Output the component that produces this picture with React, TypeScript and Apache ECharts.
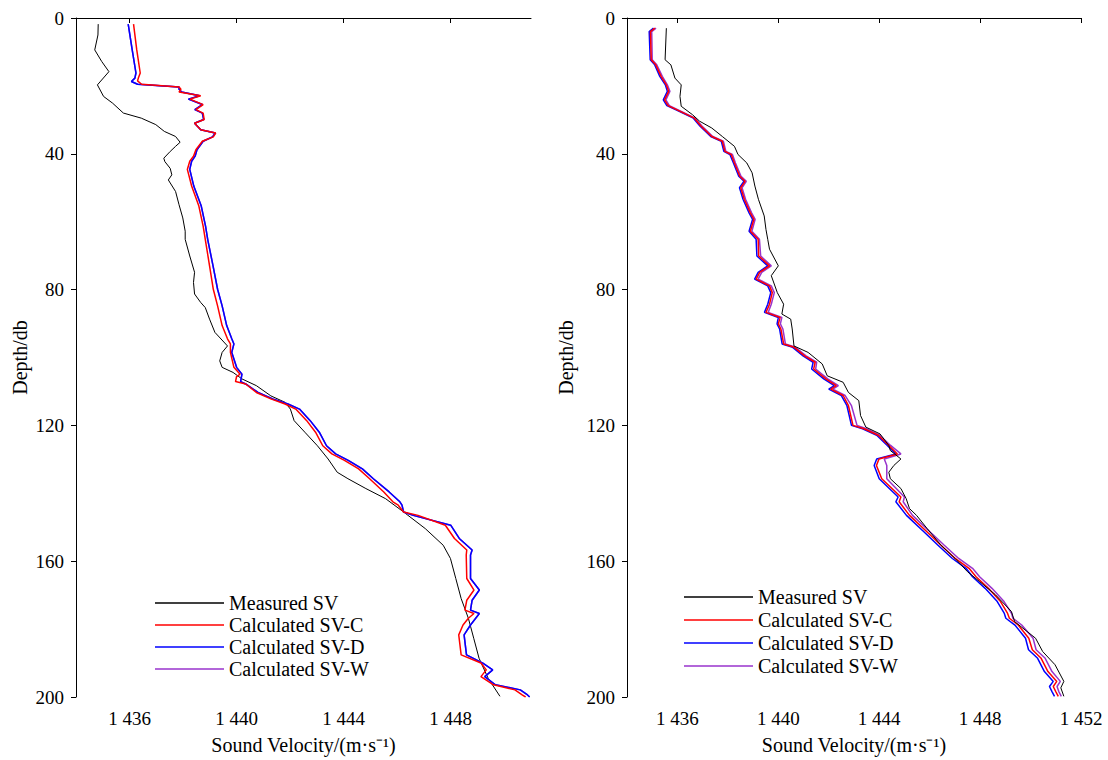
import React, { useEffect, useRef } from "react";
import * as echarts from "echarts";

// [depth (db), sound velocity (m/s)]
const leftMeasured: [number, number][] = [
  [1.8, 1434.83], [5, 1434.82], [9.4, 1434.7], [12.8, 1434.96], [15.8, 1435.23], [19.7, 1434.8],
  [23.1, 1435.03], [25.1, 1435.37], [28.0, 1435.77], [29.5, 1436.44], [31.4, 1436.98], [33.4, 1437.3],
  [34.9, 1437.72], [36.6, 1437.89], [37.8, 1437.72], [39.3, 1437.52], [41.3, 1437.28], [42.3, 1437.32],
  [44.3, 1437.52], [46.2, 1437.58], [47.7, 1437.45], [51.1, 1437.72], [55, 1437.85], [58.9, 1437.99],
  [62.8, 1438.08], [65.2, 1438.08], [70.1, 1438.25], [74.9, 1438.43], [77.9, 1438.39], [81.3, 1438.43],
  [83.8, 1438.66], [85.3, 1438.83], [88.7, 1438.99], [92.6, 1439.19], [96.6, 1439.66], [98.5, 1439.46],
  [101, 1439.37], [102.9, 1439.46], [104.4, 1439.87], [106.3, 1440.2], [108.3, 1440.74], [111.3, 1441.28],
  [113.2, 1441.81], [115.2, 1442.01], [118.6, 1442.15], [122, 1442.55], [126, 1443.02], [129.9, 1443.42],
  [133.8, 1443.76], [135.7, 1444.16], [138.6, 1444.83], [141.6, 1445.57], [145.5, 1446.24], [150.4, 1447.05],
  [155.3, 1447.72], [159.2, 1447.99], [165.1, 1448.19], [171, 1448.39], [176.8, 1448.66], [182.7, 1448.86],
  [188.6, 1449.06], [194.5, 1449.4], [199.8, 1449.84],
];

const leftC: [number, number][] = [
  [1.8, 1436.15], [9.4, 1436.27], [16.2, 1436.4], [17.7, 1436.33], [18.5, 1436.3], [19.5, 1436.45],
  [20.3, 1437.85], [21.0, 1437.92], [21.8, 1437.85], [22.9, 1438.66], [23.9, 1438.26], [25.5, 1438.75],
  [27, 1438.48], [28, 1438.75], [29.9, 1438.79], [31, 1438.43], [32.9, 1438.66], [33.9, 1439.22],
  [35, 1439.13], [36.3, 1438.72], [38.8, 1438.48], [40.7, 1438.39], [42.2, 1438.25], [44.6, 1438.16],
  [49.5, 1438.32], [55.4, 1438.59], [61.3, 1438.75], [65.2, 1438.83], [73, 1438.99], [79.9, 1439.13],
  [84.8, 1439.29], [90.6, 1439.46], [94.5, 1439.66], [96, 1439.77], [98.5, 1439.77], [102.9, 1439.9],
  [104.9, 1440.13], [105.6, 1440.0], [107.1, 1439.96], [107.8, 1440.34], [110.3, 1440.74], [112.2, 1441.28],
  [113.7, 1441.81], [115.2, 1442.21], [118.6, 1442.62], [122, 1442.95], [126, 1443.22], [128.4, 1443.56],
  [130.3, 1444.03], [132.8, 1444.56], [135.7, 1444.97], [139.6, 1445.5], [142.5, 1445.84], [143.5, 1446.04],
  [145.5, 1446.24], [146.5, 1446.78], [149.4, 1447.8], [153.3, 1448.14], [156.7, 1448.6], [158.2, 1448.58],
  [165.1, 1448.6], [168.5, 1448.87], [171.5, 1448.6], [174.4, 1448.53], [175.4, 1448.87], [176.8, 1448.66],
  [178.8, 1448.46], [181.7, 1448.3], [187.6, 1448.39], [190, 1449.13], [192, 1449.33], [194, 1449.13],
  [196.4, 1449.6], [197.9, 1450.4], [199.4, 1450.67], [200, 1450.8],
];

const leftD: [number, number][] = [
  [1.8, 1435.95], [9.4, 1436.1], [16.2, 1436.24], [17.7, 1436.2], [18.7, 1436.07], [19.5, 1436.3],
  [20.3, 1437.85], [21.0, 1437.85], [21.8, 1437.95], [22.9, 1438.62], [23.9, 1438.2], [25.5, 1438.72],
  [27, 1438.44], [28, 1438.72], [29.9, 1438.77], [31, 1438.43], [32.9, 1438.66], [33.9, 1439.2],
  [35, 1439.1], [36.3, 1438.75], [38.8, 1438.52], [40.7, 1438.45], [42.2, 1438.32], [44.6, 1438.25],
  [49.5, 1438.4], [55.4, 1438.68], [61.3, 1438.84], [65.2, 1438.92], [73, 1439.12], [79.9, 1439.29],
  [84.8, 1439.46], [90.6, 1439.63], [94.5, 1439.82], [96, 1439.9], [98.5, 1439.82], [102.9, 1440.0],
  [104.9, 1440.2], [107.1, 1440.15], [107.8, 1440.34], [110.3, 1440.8], [112.2, 1441.35], [113.7, 1441.92],
  [115.2, 1442.35], [118.6, 1442.75], [122, 1443.09], [126, 1443.36], [128.4, 1443.7], [130.3, 1444.17],
  [132.8, 1444.7], [135.7, 1445.11], [139.6, 1445.7], [142.5, 1446.1], [143.5, 1446.18], [145.5, 1446.24],
  [146.5, 1446.6], [149.4, 1448.0], [153.3, 1448.32], [156.7, 1448.8], [158.2, 1448.74], [165.1, 1448.74],
  [168.5, 1449.07], [171.5, 1448.8], [174.4, 1448.74], [175.4, 1449.07], [178.8, 1448.74], [181.7, 1448.5],
  [187.6, 1448.59], [190, 1449.2], [192, 1449.57], [194, 1449.27], [196.4, 1449.67], [197.9, 1450.6],
  [199.4, 1450.87], [200, 1450.95],
];

// SV-W coincides with SV-D in the left panel (hidden underneath it)
const leftW: [number, number][] = leftD;

const rightMeasured: [number, number][] = [
  [3.0, 1435.56], [12.3, 1435.51], [13.8, 1435.74], [17.7, 1435.9], [19.7, 1436.15], [23.1, 1436.1],
  [26, 1436.15], [28.5, 1436.6], [30.4, 1436.88], [32.4, 1437.36], [34.9, 1437.78], [37.8, 1438.26],
  [40.2, 1438.4], [42.7, 1438.75], [45.6, 1438.96], [49.5, 1439.07], [53.4, 1439.21], [58.3, 1439.44],
  [62.3, 1439.51], [65.2, 1439.58], [68.1, 1439.65], [73, 1440.0], [75.9, 1439.72], [80.9, 1439.96],
  [84.3, 1440.21], [87.2, 1440.14], [88.7, 1440.49], [91.6, 1440.55], [96.6, 1440.62], [98.5, 1441.18],
  [101.9, 1441.74], [105.4, 1441.94], [107.3, 1442.57], [110.3, 1442.78], [112.7, 1443.19], [117.1, 1443.26],
  [120.5, 1443.47], [122.5, 1444.03], [125.9, 1444.38], [127.4, 1444.44], [129.9, 1444.86], [131.8, 1444.58],
  [133.8, 1444.38], [135.7, 1444.44], [138.6, 1444.86], [141.6, 1445.07], [144.5, 1445.2], [146.5, 1445.48],
  [150.4, 1445.9], [155.3, 1446.45], [159.2, 1447.01], [163.1, 1447.5], [166, 1447.98], [169.9, 1448.61],
  [174.8, 1449.24], [177.8, 1449.37], [182.7, 1450.2], [186.6, 1450.48], [190.5, 1450.97], [195.4, 1451.32],
  [197.3, 1451.2], [199.8, 1451.32],
];

const rightC: [number, number][] = [
  [3.0, 1435.1], [4.0, 1434.93], [12.3, 1434.96], [13.8, 1435.14], [17.2, 1435.35], [19.7, 1435.56],
  [21.6, 1435.65], [24.1, 1435.49], [25.8, 1435.63], [27.5, 1436.11], [29.5, 1436.67], [31.9, 1436.94],
  [34.9, 1437.36], [36.3, 1437.78], [39.3, 1437.88], [40.2, 1438.13], [42.7, 1438.26], [46.6, 1438.47],
  [48.1, 1438.68], [50, 1438.51], [53.4, 1438.65], [57.4, 1438.89], [59.3, 1439.03], [62.8, 1438.89],
  [65.2, 1439.2], [70.1, 1439.22], [73, 1439.65], [74.9, 1439.26], [76.9, 1439.12], [78.9, 1439.65],
  [80.9, 1439.76], [84.3, 1439.65], [86.7, 1439.51], [88.2, 1440.07], [90.1, 1440.0], [91.6, 1440.1],
  [96, 1440.21], [97, 1440.63], [99.5, 1441.04], [101.4, 1441.46], [103.4, 1441.4], [106.3, 1441.88],
  [108.3, 1442.3], [109.3, 1442.08], [111.2, 1442.57], [114.2, 1442.78], [120, 1442.96], [121, 1443.4],
  [122.9, 1443.96], [125.9, 1444.38], [128.4, 1444.72], [129.9, 1443.99], [131.8, 1443.89], [135.7, 1444.1],
  [141.1, 1444.86], [142.5, 1444.79], [146.5, 1445.2], [151.4, 1445.9], [155.3, 1446.45], [159.2, 1447.01],
  [162.1, 1447.56], [164.6, 1447.84], [168, 1448.33], [171.9, 1448.81], [175.4, 1449.09], [176.8, 1449.16],
  [178.8, 1449.51], [182.7, 1449.93], [186.1, 1450.07], [188.6, 1450.42], [192.5, 1450.69], [195.4, 1451.04],
  [196.9, 1450.9], [198.4, 1451.0], [199.8, 1451.1],
];

const rightD: [number, number][] = [
  [3.0, 1435.05], [4.0, 1434.88], [12.3, 1434.92], [13.8, 1435.1], [17.2, 1435.3], [19.7, 1435.52],
  [21.6, 1435.6], [24.1, 1435.44], [25.8, 1435.58], [27.5, 1436.07], [29.5, 1436.63], [31.9, 1436.9],
  [34.9, 1437.32], [36.3, 1437.74], [39.3, 1437.84], [40.2, 1438.08], [42.7, 1438.22], [46.6, 1438.43],
  [48.1, 1438.64], [50, 1438.46], [53.4, 1438.6], [57.4, 1438.84], [59.3, 1438.98], [62.8, 1438.84],
  [65.2, 1439.12], [70.1, 1439.15], [73, 1439.58], [74.9, 1439.2], [76.9, 1439.06], [78.9, 1439.58],
  [80.9, 1439.7], [84.3, 1439.58], [86.7, 1439.45], [88.2, 1440.0], [90.1, 1439.95], [91.6, 1440.05],
  [96, 1440.15], [97, 1440.57], [99.5, 1440.98], [101.4, 1441.38], [103.4, 1441.32], [106.3, 1441.8],
  [108.3, 1442.22], [109.3, 1442.0], [111.2, 1442.5], [114.2, 1442.72], [120, 1442.9], [121, 1443.34],
  [122.9, 1443.9], [125.9, 1444.32], [128.4, 1444.66], [129.9, 1443.9], [131.8, 1443.8], [135.7, 1444.0],
  [141.1, 1444.75], [142.5, 1444.66], [146.5, 1445.08], [151.4, 1445.78], [155.3, 1446.33], [159.2, 1446.9],
  [162.1, 1447.44], [164.6, 1447.7], [168, 1448.2], [171.9, 1448.68], [175.4, 1448.96], [176.8, 1449.02],
  [178.8, 1449.38], [182.7, 1449.8], [186.1, 1449.92], [188.6, 1450.28], [192.5, 1450.55], [195.4, 1450.9],
  [196.9, 1450.75], [198.4, 1450.85], [199.8, 1450.95],
];

const rightW: [number, number][] = [
  [3.0, 1435.15], [4.0, 1434.98], [12.3, 1435.0], [13.8, 1435.18], [17.2, 1435.4], [19.7, 1435.6],
  [21.6, 1435.7], [24.1, 1435.54], [25.8, 1435.68], [27.5, 1436.15], [29.5, 1436.7], [31.9, 1436.98],
  [34.9, 1437.4], [36.3, 1437.82], [39.3, 1437.92], [40.2, 1438.18], [42.7, 1438.3], [46.6, 1438.52],
  [48.1, 1438.73], [50, 1438.56], [53.4, 1438.7], [57.4, 1438.94], [59.3, 1439.08], [62.8, 1438.95],
  [65.2, 1439.25], [70.1, 1439.3], [73, 1439.72], [74.9, 1439.34], [76.9, 1439.2], [78.9, 1439.72],
  [80.9, 1439.84], [84.3, 1439.72], [86.7, 1439.6], [88.2, 1440.14], [90.1, 1440.08], [91.6, 1440.18],
  [96, 1440.28], [97, 1440.68], [99.5, 1441.1], [101.4, 1441.52], [103.4, 1441.48], [106.3, 1441.96],
  [108.3, 1442.38], [109.3, 1442.16], [111.2, 1442.65], [114.2, 1442.9], [120, 1443.12], [121, 1443.5],
  [122.9, 1444.02], [125.9, 1444.45], [128.4, 1444.86], [129.9, 1444.2], [131.8, 1444.3], [135.7, 1444.3],
  [141.1, 1445.0], [142.5, 1444.95], [146.5, 1445.32], [151.4, 1446.02], [155.3, 1446.58], [159.2, 1447.15],
  [162.1, 1447.7], [164.6, 1447.98], [168, 1448.47], [171.9, 1448.95], [175.4, 1449.25], [176.8, 1449.3],
  [178.8, 1449.65], [182.7, 1450.1], [186.1, 1450.22], [188.6, 1450.58], [192.5, 1450.85], [195.4, 1451.18],
  [196.9, 1451.05], [198.4, 1451.12], [199.8, 1451.22],
];

const seriesNames = ["Measured SV", "Calculated SV-C", "Calculated SV-D", "Calculated SV-W"];
const leftXTicks = [1436, 1440, 1444, 1448];
const rightXTicks = [1436, 1440, 1444, 1448, 1452];
const depthTicks = [0, 40, 80, 120, 160, 200];

const FONT = "'Liberation Serif', 'Times New Roman', Times, serif";
const COLORS: Record<string, string> = {
  "Measured SV": "#000000",
  "Calculated SV-C": "#ff0000",
  "Calculated SV-D": "#0000ff",
  "Calculated SV-W": "#9933cc",
};

const fmtV = (v: number) => {
  const s = String(v);
  return s.slice(0, 1) + " " + s.slice(1);
};

export default function App() {
  const ref = useRef<HTMLDivElement>(null);
  useEffect(() => {
    if (!ref.current) return;
    const chart = echarts.init(ref.current, undefined, { renderer: "svg" });

    const axisLine = { show: true, lineStyle: { color: "#000", width: 1 } };
    const mkX = (gridIndex: number, max: number, ticks: number[]) => ({
      type: "value",
      gridIndex,
      min: 1434,
      max,
      axisLine,
      axisTick: { show: true, customValues: ticks, length: 5, lineStyle: { color: "#000" } },
      axisLabel: {
        customValues: ticks,
        formatter: fmtV,
        fontSize: 19,
        fontFamily: FONT,
        color: "#000",
        margin: 12,
      },
      splitLine: { show: false },
      name: "Sound Velocity/(m·s⁻¹)",
      nameLocation: "middle",
      nameGap: 38,
      nameTextStyle: { fontSize: 20, fontFamily: FONT, color: "#000" },
    });
    const mkY = (gridIndex: number, nameGap: number) => ({
      type: "value",
      gridIndex,
      inverse: true,
      min: 0,
      max: 200,
      interval: 40,
      axisLine,
      axisTick: { show: true, customValues: depthTicks, length: 5, lineStyle: { color: "#000" } },
      axisLabel: { fontSize: 19, fontFamily: FONT, color: "#000", margin: 12 },
      splitLine: { show: false },
      name: "Depth/db",
      nameLocation: "middle",
      nameGap,
      nameTextStyle: { fontSize: 20, fontFamily: FONT, color: "#000" },
    });

    const mkSeries = (name: string, data: [number, number][], idx: number) => ({
      type: "line",
      name,
      xAxisIndex: idx,
      yAxisIndex: idx,
      data: data.map(([d, v]) => [v, d]),
      symbol: "none",
      showSymbol: false,
      smooth: false,
      lineStyle: { color: COLORS[name], width: name === "Measured SV" ? 1 : 1.5 },
      itemStyle: { color: COLORS[name] },
      emphasis: { disabled: true },
    });

    const mkLegend = (left: number, top: number, gap: number) => ({
      orient: "vertical",
      left,
      top,
      padding: 0,
      icon: "rect",
      itemWidth: 69,
      itemHeight: 1.6,
      itemGap: gap,
      data: seriesNames.map((n) => ({ name: n, itemStyle: { color: COLORS[n] } })),
      textStyle: { fontSize: 20, fontFamily: FONT, color: "#000" },
    });

    chart.setOption({
      animation: false,
      backgroundColor: "#fff",
      grid: [
        { left: 76, top: 18, width: 455, height: 681, containLabel: false },
        { left: 627, top: 18, width: 454, height: 681, containLabel: false },
      ],
      xAxis: [mkX(0, 1451, leftXTicks), mkX(1, 1452, rightXTicks)],
      yAxis: [mkY(0, 46), mkY(1, 51)],
      legend: [mkLegend(155, 593, 2), mkLegend(684, 587, 3)],
      series: [
        mkSeries("Measured SV", leftMeasured, 0),
        mkSeries("Calculated SV-W", leftW, 0),
        mkSeries("Calculated SV-D", leftD, 0),
        mkSeries("Calculated SV-C", leftC, 0),
        mkSeries("Calculated SV-W", rightW, 1),
        mkSeries("Calculated SV-D", rightD, 1),
        mkSeries("Calculated SV-C", rightC, 1),
        mkSeries("Measured SV", rightMeasured, 1),
      ],
    });
    return () => chart.dispose();
  }, []);

  return (
    <div
      ref={ref}
      style={{ position: "fixed", left: 0, top: 0, width: 1108, height: 760, background: "#fff" }}
    />
  );
}
